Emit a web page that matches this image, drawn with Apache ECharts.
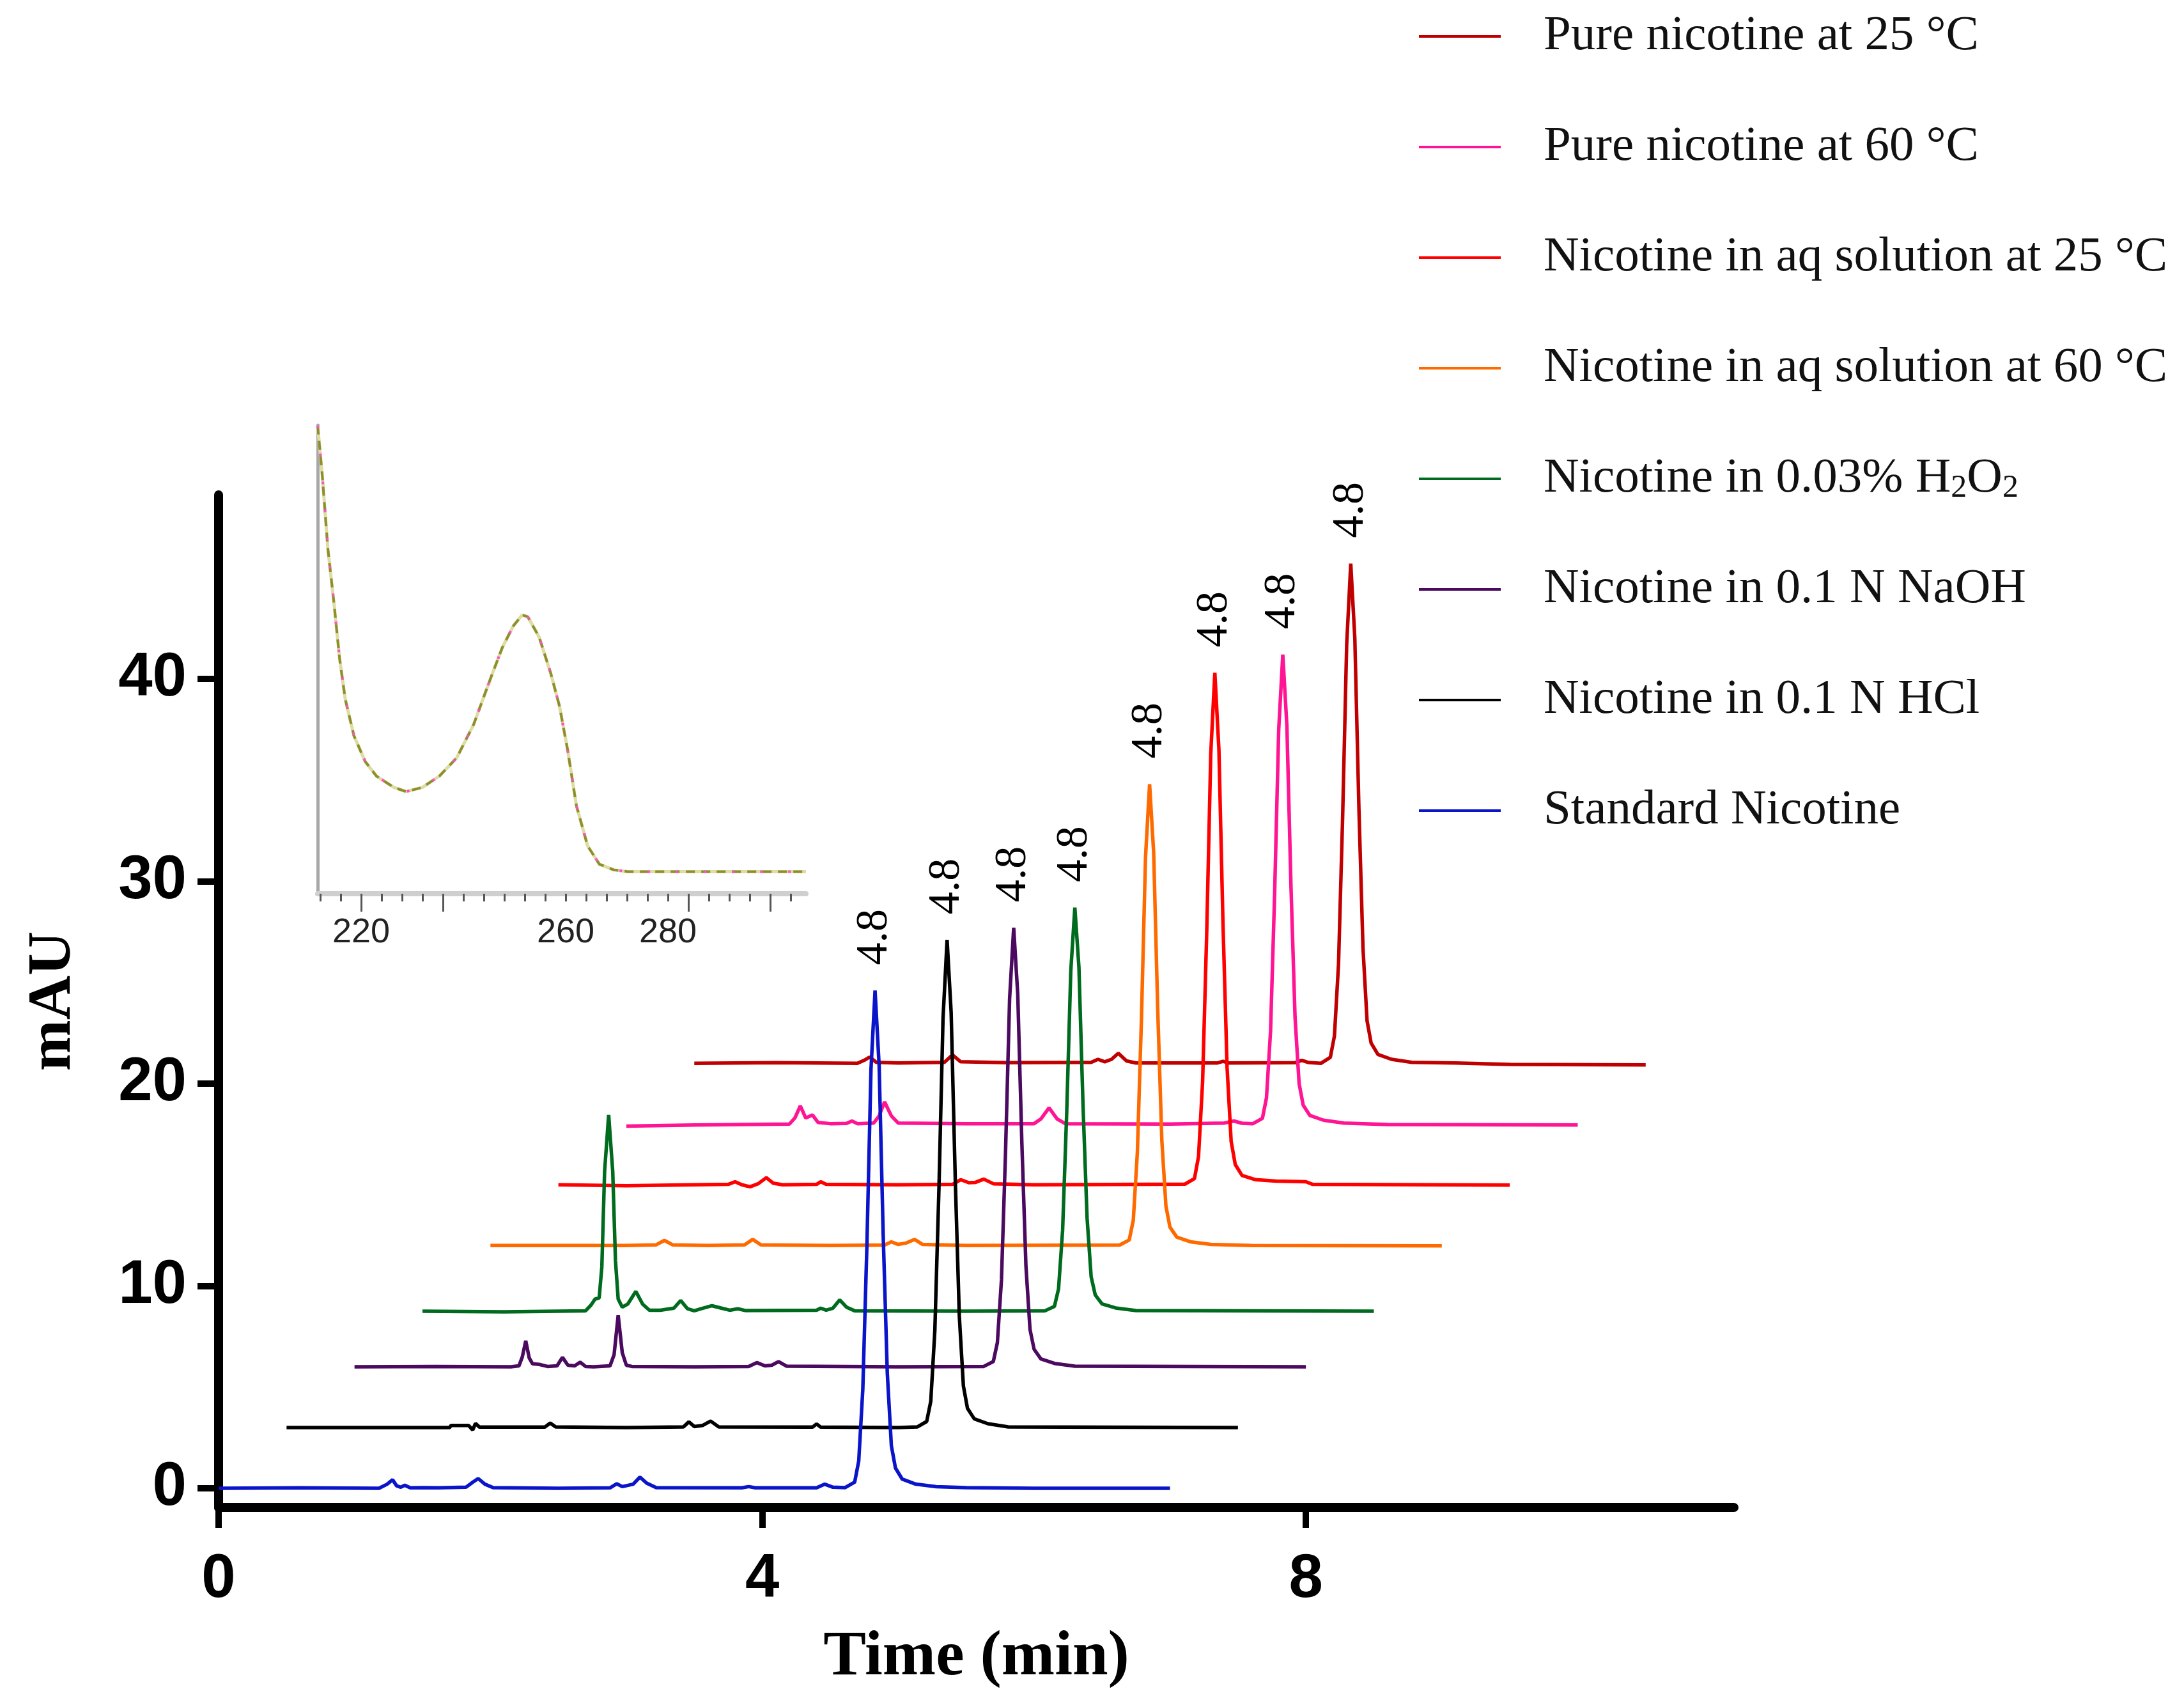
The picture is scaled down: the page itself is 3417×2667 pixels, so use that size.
<!DOCTYPE html>
<html><head><meta charset="utf-8">
<script src="https://cdn.jsdelivr.net/npm/echarts@6/dist/echarts.min.js"></script>
<style>html,body{margin:0;padding:0;background:#fff}#c{width:3417px;height:2667px}</style>
</head><body><div id="c"></div>
<script>
// ---------- data ----------
const seriesNames = [
  'Pure nicotine at 25 °C',
  'Pure nicotine at 60 °C',
  'Nicotine in aq solution at 25 °C',
  'Nicotine in aq solution at 60 °C',
  'Nicotine in 0.03% H2O2',
  'Nicotine in 0.1 N NaOH',
  'Nicotine in 0.1 N HCl',
  'Standard Nicotine'
];
const seriesColors = ['#c00000', '#ff1493', '#ff0000', '#ff6a00', '#006b1f', '#4b0a60', '#000000', '#0a14c8'];
// horizontal / vertical offsets of each stacked chromatogram (min, mAU)
const xOffsets = [3.5, 3.0, 2.5, 2.0, 1.5, 1.0, 0.5, 0];
const yOffsets = [21, 18, 15, 12, 8.75, 6, 3, 0];
const peakLabels = ['4.8', '4.8', '4.8', '4.8', '4.8', '4.8', '4.8', '4.8'];

// each trace: [time (min), signal above baseline (mAU)]
const pureNicotine25 = [[0,0],[0.6,0.03],[1.2,0],[1.25,0.15],[1.29,0.31],[1.34,0.05],[1.5,0.02],[1.84,0.05],[1.9,0.42],[1.96,0.08],[2.3,0.03],[2.92,0.05],[2.97,0.2],[3.02,0.08],[3.07,0.2],[3.12,0.5],[3.18,0.12],[3.25,0.02],[3.85,0.02],[3.89,0.1],[3.93,0.02],[4.42,0.03],[4.47,0.15],[4.52,0.04],[4.61,0],[4.68,0.3],[4.71,1.36],[4.74,4.9],[4.77,12.1],[4.80,20.7],[4.83,24.7],[4.86,21.0],[4.89,12.6],[4.92,5.7],[4.95,2.1],[4.98,1.0],[5.03,0.44],[5.13,0.2],[5.28,0.05],[5.6,0.02],[6.0,-0.05],[7.0,-0.08]];
const pureNicotine60 = [[0,-0.1],[0.5,-0.05],[1.2,0],[1.24,0.3],[1.28,0.9],[1.32,0.3],[1.37,0.45],[1.41,0.08],[1.5,0.02],[1.62,0.03],[1.66,0.15],[1.7,0.02],[1.82,0.05],[1.86,0.4],[1.9,1.1],[1.95,0.4],[2.0,0.05],[2.5,0.02],[3.0,0.02],[3.05,0.25],[3.11,0.8],[3.17,0.25],[3.23,0.02],[4.0,0],[4.4,0.05],[4.47,0.15],[4.53,0.04],[4.61,0.02],[4.68,0.28],[4.71,1.3],[4.74,4.6],[4.77,11.4],[4.80,19.5],[4.83,23.2],[4.86,19.7],[4.89,11.8],[4.92,5.3],[4.95,2.0],[4.98,0.93],[5.03,0.42],[5.13,0.19],[5.28,0.05],[5.6,-0.02],[7.0,-0.05]];
const aqSolution25 = [[0,0],[0.5,-0.05],[1.0,0],[1.25,0.02],[1.3,0.15],[1.35,0],[1.41,-0.1],[1.47,0.05],[1.53,0.35],[1.58,0.08],[1.65,0],[1.9,0.02],[1.93,0.15],[1.97,0.02],[2.5,0],[2.9,0.02],[2.96,0.25],[3.02,0.1],[3.07,0.12],[3.13,0.28],[3.2,0.05],[3.5,0],[4.61,0.03],[4.68,0.3],[4.71,1.4],[4.74,5.1],[4.77,12.4],[4.80,21.3],[4.83,25.3],[4.86,21.5],[4.89,12.9],[4.92,5.8],[4.95,2.15],[4.98,1.0],[5.03,0.46],[5.13,0.25],[5.28,0.18],[5.5,0.15],[5.55,0.02],[7.0,-0.02]];
const aqSolution60 = [[0,0],[1.0,0],[1.22,0.03],[1.28,0.25],[1.34,0.03],[1.6,0],[1.87,0.03],[1.93,0.3],[1.99,0.03],[2.5,0],[2.9,0.02],[2.95,0.18],[3.0,0.05],[3.06,0.12],[3.12,0.3],[3.18,0.05],[3.5,0],[4.63,0.02],[4.70,0.27],[4.73,1.25],[4.76,4.6],[4.79,11.2],[4.82,19.2],[4.85,22.8],[4.88,19.4],[4.91,11.6],[4.94,5.2],[4.97,1.95],[5.0,0.9],[5.05,0.41],[5.15,0.18],[5.3,0.05],[5.6,0],[7.0,-0.02]];
const peroxide = [[0,0],[0.6,-0.03],[1.2,0.02],[1.24,0.3],[1.27,0.6],[1.3,0.65],[1.32,2.2],[1.34,6.9],[1.37,9.7],[1.40,6.9],[1.42,2.5],[1.44,0.6],[1.47,0.2],[1.51,0.35],[1.57,0.98],[1.62,0.35],[1.67,0.05],[1.75,0.05],[1.85,0.15],[1.9,0.53],[1.95,0.12],[2.0,0.02],[2.05,0.12],[2.13,0.27],[2.2,0.15],[2.26,0.05],[2.32,0.12],[2.38,0.03],[2.9,0.05],[2.93,0.15],[2.97,0.05],[3.02,0.15],[3.07,0.56],[3.12,0.2],[3.18,0.02],[4.0,0],[4.58,0.02],[4.65,0.24],[4.68,1.1],[4.71,4.0],[4.74,9.8],[4.77,16.8],[4.80,19.95],[4.83,17.0],[4.86,10.2],[4.89,4.6],[4.92,1.7],[4.95,0.8],[5.0,0.36],[5.1,0.16],[5.25,0.03],[7.0,0]];
const sodiumHydroxide = [[0,0],[0.6,0.02],[1.15,0],[1.21,0.05],[1.235,0.5],[1.26,1.29],[1.285,0.45],[1.31,0.15],[1.36,0.12],[1.42,0.02],[1.49,0.05],[1.53,0.47],[1.57,0.08],[1.62,0.05],[1.66,0.23],[1.7,0.02],[1.76,0],[1.88,0.05],[1.91,0.6],[1.94,2.55],[1.97,0.7],[2.0,0.08],[2.04,0.02],[2.5,0],[2.9,0.02],[2.96,0.21],[3.02,0.05],[3.07,0.08],[3.12,0.26],[3.18,0.03],[4.0,0],[4.63,0.02],[4.70,0.26],[4.73,1.2],[4.76,4.3],[4.79,10.6],[4.82,18.2],[4.85,21.7],[4.88,18.4],[4.91,11.1],[4.94,5.0],[4.97,1.85],[5.0,0.87],[5.05,0.39],[5.15,0.17],[5.3,0.03],[7.0,0]];
const hydrochloric = [[0,0],[1.2,0],[1.21,0.1],[1.34,0.1],[1.37,-0.12],[1.39,0.2],[1.42,0.02],[1.9,0.02],[1.94,0.22],[1.98,0.03],[2.5,0],[2.92,0.03],[2.96,0.28],[3.0,0.05],[3.06,0.1],[3.12,0.32],[3.18,0.03],[3.87,0.02],[3.9,0.18],[3.93,0.02],[4.5,0],[4.64,0.03],[4.71,0.3],[4.74,1.3],[4.77,4.8],[4.80,11.8],[4.83,20.2],[4.86,24.1],[4.89,20.5],[4.92,12.3],[4.95,5.5],[4.98,2.05],[5.01,0.95],[5.06,0.43],[5.16,0.19],[5.31,0.03],[7.0,0]];
const standardNicotine = [[0,0],[0.6,0.02],[1.18,0],[1.24,0.2],[1.28,0.42],[1.31,0.12],[1.34,0.05],[1.37,0.15],[1.41,0.02],[1.5,0.03],[1.62,0.02],[1.82,0.05],[1.87,0.3],[1.91,0.48],[1.96,0.2],[2.02,0.03],[2.5,0],[2.88,0.02],[2.93,0.22],[2.97,0.08],[3.05,0.2],[3.1,0.55],[3.15,0.25],[3.22,0.03],[3.85,0.02],[3.9,0.08],[3.95,0.02],[4.4,0.02],[4.46,0.2],[4.52,0.05],[4.61,0.03],[4.68,0.3],[4.71,1.35],[4.74,4.9],[4.77,12.0],[4.80,20.7],[4.83,24.6],[4.86,20.9],[4.89,12.5],[4.92,5.7],[4.95,2.1],[4.98,1.0],[5.03,0.45],[5.13,0.2],[5.28,0.08],[5.5,0.03],[6.0,0],[7.0,0]];
const traces = [pureNicotine25, pureNicotine60, aqSolution25, aqSolution60, peroxide, sodiumHydroxide, hydrochloric, standardNicotine];

const xTickValues = [0, 4, 8];
const yTickValues = [0, 10, 20, 30, 40];

// inset UV spectrum (wavelength nm, relative absorbance)
const insetWavelength = [211.5,212.4,213.5,214.7,215.8,216.9,218.6,220.8,223.0,226.4,228.8,232.0,235.3,238.7,242.0,245.4,247.6,249.8,251.5,252.6,254.8,257.1,258.8,260.4,262.1,264.3,266.6,269.4,272.2,307];
const insetAbsorbance = [99.9,89.3,73.6,61.9,50.1,41.5,33.7,28.2,25.1,22.7,21.8,22.7,25.1,29.0,36.1,46.2,52.5,57.2,59.5,59.1,54.8,47.0,40.0,30.6,18.8,10.2,6.3,5.1,4.7,4.7];
const insetLabelValues = [220, 260, 280];
const insetMinorTicks = [212,216,220,224,228,232,236,240,244,248,252,256,260,264,268,272,276,280,284,288,292,296,300,304];
const insetMajorTicks = [220, 236, 284, 300];

// ---------- chart ----------
const h2o2Name = 'Nicotine in 0.03% H2O2';
const serif = 'Liberation Serif, "Times New Roman", serif';
const sans = 'Liberation Sans, Arial, sans-serif';

const mainSeries = traces.map((tr, i) => {
  let maxIdx = 0;
  tr.forEach((p, j) => { if (p[1] > tr[maxIdx][1]) maxIdx = j; });
  const data = tr.map((p, j) => {
    const v = [p[0] + xOffsets[i], p[1] + yOffsets[i]];
    if (j !== maxIdx) return v;
    return {
      value: v,
      label: {
        show: true, formatter: peakLabels[i], position: 'top', distance: 40,
        rotate: 90, align: 'left', verticalAlign: 'middle',
        fontFamily: serif, fontSize: 70, color: '#000'
      }
    };
  });
  return {
    type: 'line', name: seriesNames[i], data: data,
    xAxisIndex: 0, yAxisIndex: 0,
    symbol: 'circle', symbolSize: 0, showSymbol: true, showAllSymbol: true,
    lineStyle: { color: seriesColors[i], width: 5.5 },
    itemStyle: { color: seriesColors[i] },
    emphasis: { disabled: true },
    silent: true
  };
});

const insetData = insetWavelength.map((w, i) => [w, insetAbsorbance[i]]);
const insetSeries = [
  { type: 'line', data: insetData, xAxisIndex: 1, yAxisIndex: 1, symbol: 'none', silent: true,
    lineStyle: { color: '#dcdca4', width: 5 } },
  { type: 'line', data: insetData, xAxisIndex: 1, yAxisIndex: 1, symbol: 'none', silent: true,
    lineStyle: { color: '#8e8e2c', width: 4, type: [14, 10] } },
  { type: 'line', data: insetData, xAxisIndex: 1, yAxisIndex: 1, symbol: 'none', silent: true,
    lineStyle: { color: '#ff4fd0', width: 4, type: [4, 40] } }
];

const chart = echarts.init(document.getElementById('c'), null, { renderer: 'canvas' });
chart.setOption({
  animation: false,
  backgroundColor: '#ffffff',
  grid: [
    { left: 342, right: 704, top: 774, bottom: 309 },
    { left: 497, right: 2156, top: 665, bottom: 1269 }
  ],
  legend: {
    data: seriesNames,
    orient: 'vertical', left: 2215, top: 12,
    itemWidth: 128, itemHeight: 4, itemGap: 93, icon: 'rect',
    formatter: n => n === h2o2Name ? 'Nicotine in 0.03% H{sub|2}O{sub|2}' : n,
    textStyle: {
      fontFamily: serif, fontSize: 77, color: '#111', lineHeight: 80,
      padding: [0, 0, 0, 62],
      rich: { sub: { fontFamily: serif, fontSize: 50, lineHeight: 40, verticalAlign: 'bottom', color: '#111' } }
    },
    selectedMode: false
  },
  xAxis: [
    {
      type: 'value', gridIndex: 0, min: 0, max: 11.15,
      name: 'Time (min)', nameLocation: 'middle', nameGap: 185,
      nameTextStyle: { fontFamily: serif, fontWeight: 'bold', fontSize: 100, color: '#000' },
      axisLine: { show: true, onZero: false, lineStyle: { color: '#000', width: 14 } },
      axisTick: { show: true, length: 32, customValues: xTickValues, lineStyle: { color: '#000', width: 10 } },
      axisLabel: { customValues: xTickValues, fontFamily: sans, fontWeight: 'bold', fontSize: 96, color: '#000', margin: 66 },
      splitLine: { show: false }
    },
    {
      type: 'value', gridIndex: 1, min: 211.5, max: 307, position: 'bottom',
      axisLine: { show: true, onZero: false, lineStyle: { color: '#cfcfcf', width: 8 } },
      axisTick: { show: true, length: 12, customValues: insetMinorTicks, lineStyle: { color: '#555', width: 3 } },
      axisLabel: { customValues: insetLabelValues, fontFamily: '"Liberation Sans Narrow", "Liberation Sans", sans-serif', fontSize: 54, color: '#222', margin: 34 },
      splitLine: { show: false }
    },
    {
      type: 'value', gridIndex: 1, min: 211.5, max: 307, position: 'bottom', offset: 0,
      axisLine: { show: false },
      axisTick: { show: true, length: 28, customValues: insetMajorTicks, lineStyle: { color: '#555', width: 3 } },
      axisLabel: { show: false },
      splitLine: { show: false }
    }
  ],
  yAxis: [
    {
      type: 'value', gridIndex: 0, min: -0.95, max: 49.1,
      name: 'mAU', nameLocation: 'middle', nameGap: 210,
      nameTextStyle: { fontFamily: serif, fontWeight: 'bold', fontSize: 96, color: '#000' },
      axisLine: { show: true, onZero: false, lineStyle: { color: '#000', width: 14 } },
      axisTick: { show: true, length: 33, customValues: yTickValues, lineStyle: { color: '#000', width: 10 } },
      axisLabel: { customValues: yTickValues, fontFamily: sans, fontWeight: 'bold', fontSize: 96, color: '#000', margin: 50 },
      splitLine: { show: false }
    },
    {
      type: 'value', gridIndex: 1, min: 0, max: 100,
      axisLine: { show: true, onZero: false, lineStyle: { color: '#a8a8a8', width: 5 } },
      axisTick: { show: false }, axisLabel: { show: false }, splitLine: { show: false }
    }
  ],
  series: mainSeries.concat(insetSeries)
});
</script>
</body></html>
